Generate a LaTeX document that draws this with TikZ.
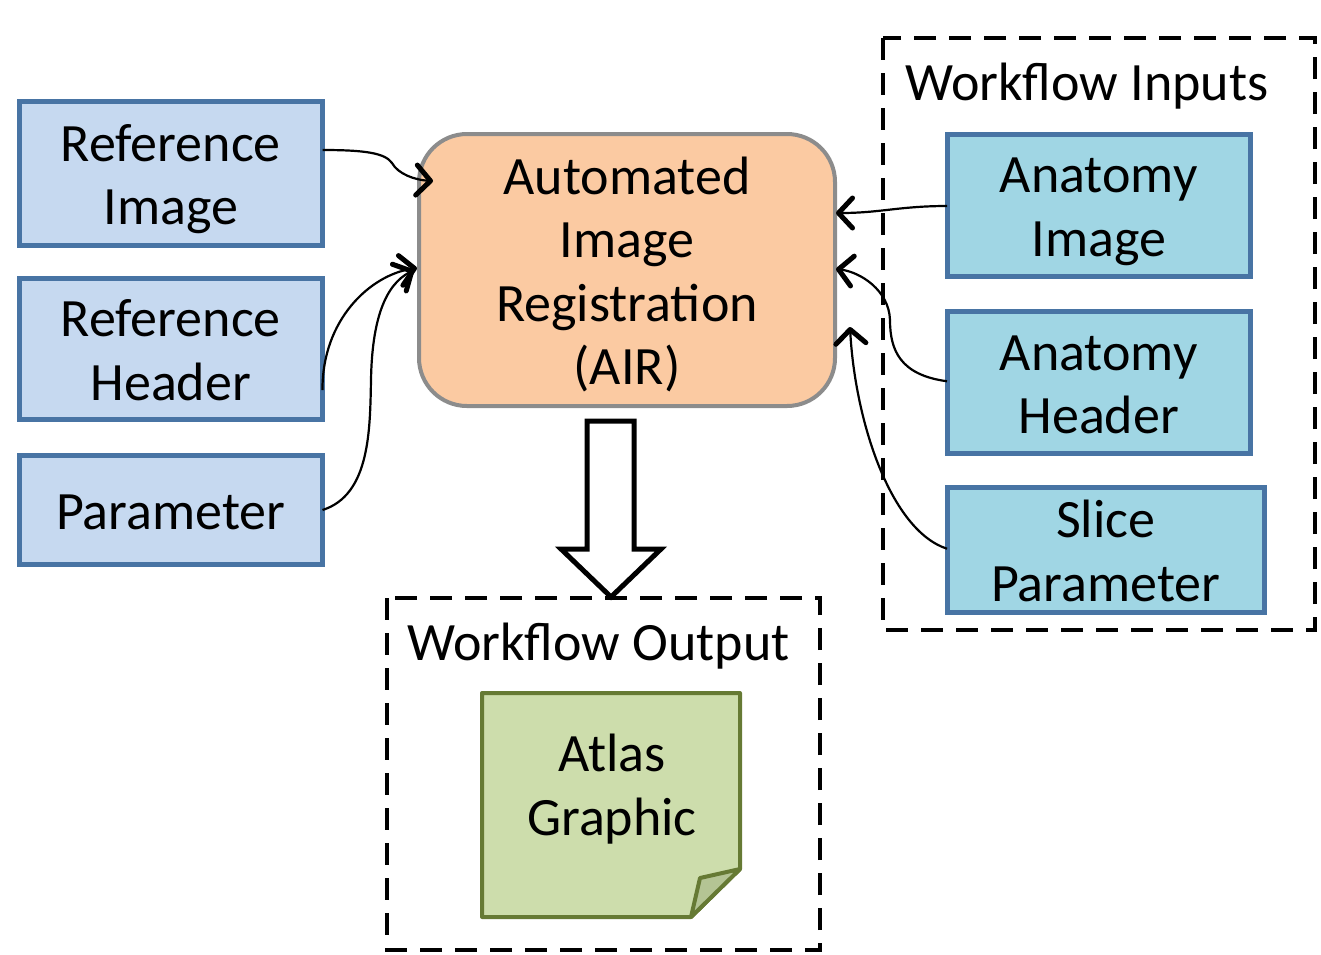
\documentclass[tikz,border=0pt]{standalone}
\usepackage{fontspec}
\setmainfont{Carlito}
\usetikzlibrary{arrows.meta,calc}

\definecolor{refFill}{RGB}{198,217,240}
\definecolor{anaFill}{RGB}{160,214,228}
\definecolor{boxEdge}{RGB}{72,116,164}
\definecolor{airFill}{RGB}{251,202,162}
\definecolor{airEdge}{RGB}{140,140,140}
\definecolor{atlasFill}{RGB}{205,221,172}
\definecolor{atlasFold}{RGB}{180,196,148}
\definecolor{atlasEdge}{RGB}{102,122,52}

% fixed line metrics, so that text blocks sit alike in every box:
% the first line always gets the same head room, the last line a
% fixed small depth whatever its letters are
\newcommand\firstline{\rule{0pt}{44.4pt}}
\newcommand\lastline[1]{\raisebox{0pt}[\height][0pt]{#1}\rule[-5pt]{0pt}{5pt}}

\tikzset{
  label font/.style={font=\fontsize{54}{63.5}\selectfont},
  inbox/.style={draw=boxEdge, line width=5pt, align=center, inner sep=0pt,
    outer sep=0pt, label font, anchor=north west},
  refbox/.style={inbox, fill=refFill},
  anabox/.style={inbox, fill=anaFill},
  groupbox/.style={draw=black, line width=4pt, dash pattern=on 22pt off 13pt},
  grouplabel/.style={label font, anchor=west, inner sep=0pt},
  feed/.style={draw=black, line width=2.2pt,
    -{Straight Barb[length=14pt,width=30pt,line width=5pt,round]}},
}

\begin{document}
\begin{tikzpicture}[x=1pt, y=-1pt]
\useasboundingbox (0,0) rectangle (1321,954);

% input and output groups
\draw[groupbox] (883,38) rectangle (1315,630);
\node[grouplabel] (inlabel) at (905,86) {Workflow Inputs};
\draw[groupbox] (387,598) rectangle (820,950);
\node[grouplabel] (outlabel) at (407,646) {Workflow Output};

% left-hand inputs
\node[refbox, minimum width=303.5pt, minimum height=144pt] (refimg) at (19,101.5)
  {\firstline Reference\\\lastline{Image}};
\node[refbox, minimum width=303.5pt, minimum height=141pt] (refhdr) at (19,278.5)
  {\firstline Reference\\\lastline{Header}};
\node[refbox, minimum width=303.5pt, minimum height=109pt] (param) at (19,455.5)
  {\firstline\lastline{Parameter}};

% registration step
\node[draw=airEdge, fill=airFill, line width=4pt, rounded corners=48pt,
      minimum width=416pt, minimum height=272pt, anchor=north west, outer sep=0pt,
      align=center, label font, inner sep=0pt] (air) at (419,134)
      {\firstline Automated\\Image\\Registration\\\lastline{(AIR)}};

% right-hand inputs
\node[anabox, minimum width=303.5pt, minimum height=142pt] (anaimg) at (947,134)
  {\firstline Anatomy\\\lastline{Image}};
\node[anabox, minimum width=303.5pt, minimum height=141.5pt] (anahdr) at (947,311.5)
  {\firstline Anatomy\\\lastline{Header}};
\node[anabox, minimum width=317.5pt, minimum height=124.5pt] (slice) at (947,487.5)
  {\firstline Slice\\\lastline{Parameter}};

% output document with folded corner
\draw[draw=atlasEdge, fill=atlasFill, line width=4pt, line join=round]
  (482,693) -- (740,693) -- (740,869) -- (691,917) -- (482,917) -- cycle;
\draw[draw=atlasEdge, fill=atlasFold, line width=4pt, line join=round]
  (740,869) -- (700,878) -- (691,917) -- cycle;
\node[label font, align=center, inner sep=0pt] (atlas) at (612,789) {Atlas\\Graphic};

% hollow block arrow from AIR to the output
\draw[line width=5pt, fill=white, line join=miter]
  (587,421) -- (634,421) -- (634,549) -- (661,549) -- (611,597)
  -- (561,549) -- (587,549) -- cycle;

% connectors into AIR
\draw[feed] ($(refimg.east)+(0,-23.5)$) .. controls (365,150) and (385,153) .. (392,163)
  .. controls (398,174) and (415,180) .. ($(air.west)+(14,-89)$);
\draw[feed] ($(refhdr.east)+(0,41)$) .. controls (322,320) and (370,275) .. ($(air.west)+(-2,-2)$);
\draw[feed] ($(param.east)+(0,0)$) .. controls (370,495) and (370,430) .. (371,380)
  .. controls (372,320) and (385,285) .. ($(air.west)+(-5,0)$);
\draw[feed] ($(anaimg.west)+(0,1)$) .. controls (900,206) and (880,213) .. ($(air.east)+(1,-57)$);
\draw[feed] ($(anahdr.west)+(0,-1)$) .. controls (900,375) and (890,350) .. (890,320)
  .. controls (889,290) and (860,272) .. ($(air.east)+(1,-1)$);
\draw[feed] ($(slice.west)+(0,-1)$) .. controls (890,530) and (855,420) .. ($(air.east)+(15,57)$);
\end{tikzpicture}
\end{document}
